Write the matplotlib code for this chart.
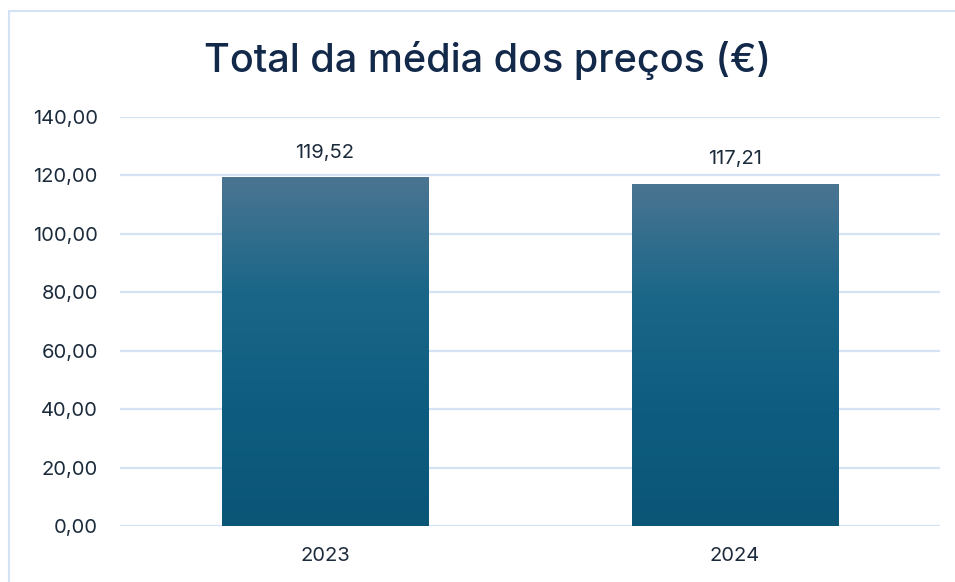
import numpy as np
import matplotlib
matplotlib.use("Agg")
import matplotlib.pyplot as plt
from matplotlib.colors import LinearSegmentedColormap
from matplotlib.patches import Rectangle

# dados
anos = ["2023", "2024"]
medias = [119.52, 117.21]
rotulos = ["119,52", "117,21"]
yticks = [0, 20, 40, 60, 80, 100, 120, 140]

plt.rcParams['font.family'] = ['Inter', 'DejaVu Sans']

fig = plt.figure(figsize=(9.55, 5.82), dpi=100)
ax = fig.add_axes([120 / 955, 56 / 582, 820 / 955, 409 / 582])

# moldura do grafico (so esquerda e topo visiveis)
fig.patches.append(Rectangle((9 / 955, -0.1), 1.2, 1.1 - 11 / 582, transform=fig.transFigure,
                             fill=False, edgecolor='#d3e2f4', linewidth=1.5, zorder=0))

x = np.arange(len(anos))
barras = ax.bar(x, medias, width=0.503, color='none', zorder=2)

# gradiente nas barras
cmap = LinearSegmentedColormap.from_list('grad', ['#0b5577', '#0e5d80', '#1a6688', '#4b7592'])
grad = np.linspace(0, 1, 256).reshape(-1, 1)
for b in barras:
    x0, y0 = b.get_x(), b.get_y()
    w, h = b.get_width(), b.get_height()
    im = ax.imshow(grad, extent=[x0, x0 + w, y0, y0 + h], origin='lower', aspect='auto',
                   cmap=cmap, zorder=2, interpolation='bicubic')
    im.set_clip_path(b)

for xi, v, r in zip(x, medias, rotulos):
    ax.annotate(r, (xi, v), xytext=(0, 11), textcoords='offset points', ha='center', va='bottom',
                fontsize=14.5, color='#1c2b3c')

ax.set_xlim(-0.5, 1.5)
ax.set_ylim(0, 140)
ax.set_xticks(x)
ax.set_xticklabels(anos)
ax.set_yticks(yticks)
ax.set_yticklabels([f"{t:.2f}".replace('.', ',') for t in yticks])
ax.tick_params(axis='both', length=0, labelsize=14.5, labelcolor='#1c2b3c')
ax.tick_params(axis='y', pad=16)
ax.tick_params(axis='x', pad=15)
ax.grid(axis='y', color='#d3e2f4', linewidth=1.6, zorder=0)
ax.set_axisbelow(True)
for s in ax.spines.values():
    s.set_visible(False)

fig.text(488 / 955, 1 - 60 / 582, "Total da média dos preços (€)", ha='center', va='center',
         fontsize=28.5, fontweight='medium', color='#13294a')

fig.savefig('out.png', dpi=100)
